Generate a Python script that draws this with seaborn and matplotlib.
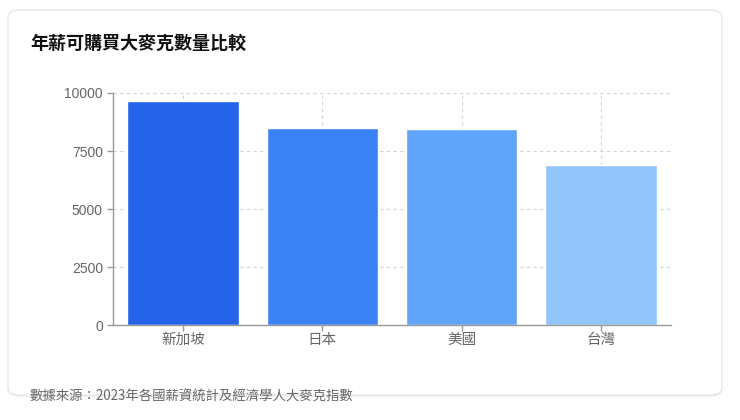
import matplotlib
matplotlib.use("Agg")
import matplotlib.pyplot as plt
import seaborn as sns
import pandas as pd
from matplotlib.patches import FancyBboxPatch

# data
countries = ["新加坡", "日本", "美國", "台灣"]
bigmacs = [9670, 8485, 8440, 6910]
bar_colors = ["#2563EB", "#3B82F6", "#60A5FA", "#93C5FD"]
y_ticks = [0, 2500, 5000, 7500, 10000]

title = "年薪可購買大麥克數量比較"
source = "數據來源：2023年各國薪資統計及經濟學人大麥克指數"

sns.set_style("white")
plt.rcParams['font.family'] = ['Noto Sans CJK TC', 'DejaVu Sans']

df = pd.DataFrame({"country": countries, "count": bigmacs})

W, H = 740, 420
fig = plt.figure(figsize=(7.4, 4.2), dpi=100)
fig.patch.set_facecolor("white")

# card background with soft shadow
shadow = FancyBboxPatch((8 / W, (H - 397) / H), 714 / W, 385 / H,
                        boxstyle="round,pad=0,rounding_size=0.016",
                        transform=fig.transFigure, facecolor="#000000", alpha=0.05,
                        edgecolor="none", zorder=-10)
card = FancyBboxPatch((8 / W, (H - 395) / H), 714 / W, 385 / H,
                      boxstyle="round,pad=0,rounding_size=0.016",
                      transform=fig.transFigure, facecolor="white",
                      edgecolor="#e5e7eb", linewidth=1, zorder=-9)
fig.patches.extend([shadow, card])

ax = fig.add_axes([113.3 / W, 1 - 325.3 / H, (670.7 - 113.3) / W, (325.3 - 93) / H])
ax.set_zorder(5)
ax.set_facecolor("none")

sns.barplot(data=df, x="country", y="count", hue="country", palette=bar_colors,
            width=0.8, legend=False, ax=ax, saturation=1, zorder=2)

ax.set_ylim(0, 10000)
ax.set_xlim(-0.5, len(countries) - 0.5)
ax.set_yticks(y_ticks)
ax.set_yticklabels([str(v) for v in y_ticks], family=["Liberation Sans", "DejaVu Sans"])
ax.set_xlabel("")
ax.set_ylabel("")

# dashed grid like the original
ax.grid(True, axis="both", linestyle=(0, (3, 3)), color="#d4d4d4", linewidth=0.8, zorder=0)
ax.set_axisbelow(True)
ax.axvline(len(countries) - 0.5, linestyle=(0, (3, 3)), color="#d4d4d4", linewidth=0.8, zorder=0)

for s in ["top", "right"]:
    ax.spines[s].set_visible(False)
for s in ["left", "bottom"]:
    ax.spines[s].set_color("#9a9a9a")
    ax.spines[s].set_linewidth(1)

ax.tick_params(axis="y", length=4.5, width=1, color="#9a9a9a", labelcolor="#666666",
               labelsize=10, pad=3, left=True)
ax.tick_params(axis="x", length=4, width=1, color="#9a9a9a", labelcolor="#666666",
               labelsize=10.5, pad=1.5, bottom=True)

fig.text(30 / W, 1 - 43 / H, title, fontsize=13, fontweight="bold", color="#111111",
         ha="left", va="center", zorder=10)
fig.text(30 / W, 1 - 397 / H, source, fontsize=9.6, color="#666666", ha="left", va="center",
         zorder=10)

fig.savefig("out.png", dpi=100)
